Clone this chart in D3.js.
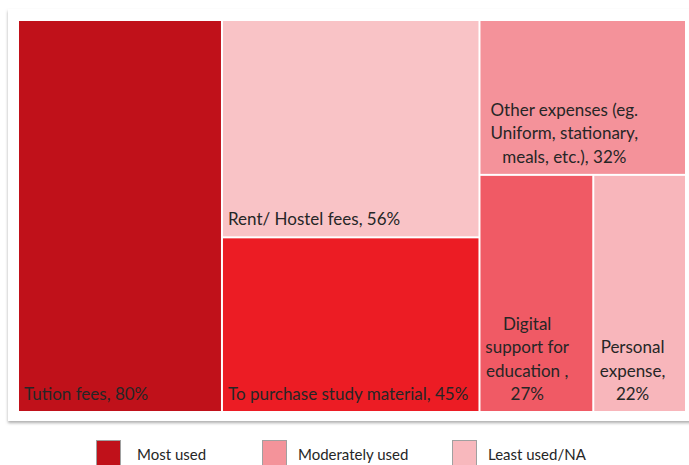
<!DOCTYPE html>
<html>
<head>
<meta charset="utf-8">
<script src="https://cdn.jsdelivr.net/npm/d3@7"></script>
<style>
  html, body { margin: 0; padding: 0; background: #fff; }
  svg { display: block; font-family: Lato, "Open Sans", sans-serif; }
</style>
</head>
<body>
<svg id="chart" width="689" height="465"></svg>
<script>
// chart data
var categories = [
    "Tution fees",
    "Rent/ Hostel fees",
    "To purchase study material",
    "Other expenses (eg.\nUniform, stationary,\nmeals, etc.)",
    "Digital\nsupport for\neducation ",
    "Personal\nexpense"
];
var values = [80, 56, 45, 32, 27, 22];
// value printed on its own line under the name
var valueOnOwnLine = [false, false, false, false, true, true];
// how the cells are nested (columns, then rows inside)
var blocks = [[0], [1, 2], [3, [4, 5]]];
var cellColors = ["#c0111a", "#f9c3c6", "#ec1c24", "#f4929a", "#f05a65", "#f8b6bb"];

var legendLabels = ["Most used", "Moderately used", "Least used/NA"];
var legendColors = ["#c0111a", "#f4939a", "#f8b8bd"];

var svg = d3.select('#chart');

var defs = svg.append('defs');
defs.append('filter').attr('id', 'shadow')
    .attr('x', '-5%').attr('y', '-5%').attr('width', '110%').attr('height', '110%')
    .append('feDropShadow')
    .attr('dx', 0).attr('dy', 2).attr('stdDeviation', 1.5)
    .attr('flood-color', '#777').attr('flood-opacity', 0.6);

// card
svg.append('rect')
    .attr('x', 8).attr('y', 9)
    .attr('width', 700).attr('height', 412)
    .attr('fill', '#fff')
    .attr('filter', 'url(#shadow)');

var build = function(item)
{
    return Array.isArray(item) ? { children : item.map(build) } : { idx : item };
};

var root = d3.hierarchy({ children : blocks.map(build) })
    .sum(function(d) { return d.idx !== undefined ? values[d.idx] : 0; });

d3.treemap()
    .tile(d3.treemapSliceDice)
    .size([666, 390])
    .paddingInner(2)(root);

var g = svg.append('g').attr('transform', 'translate(19,21)');

var cell = g.selectAll('g.cell')
    .data(root.leaves())
    .enter().append('g')
    .attr('class', 'cell');

cell.append('rect')
    .attr('x', function(d) { return d.x0; })
    .attr('y', function(d) { return d.y0; })
    .attr('width', function(d) { return d.x1 - d.x0; })
    .attr('height', function(d) { return d.y1 - d.y0; })
    .attr('fill', function(d) { return cellColors[d.data.idx]; });

var lineH = 23.4;

cell.each(function(d)
{
    var i = d.data.idx,
        label = categories[i] + ',' + (valueOnOwnLine[i] ? '\n' : ' ') + values[i] + '%',
        lines = label.split('\n'),
        multi = lines.length > 1,
        w = d.x1 - d.x0,
        tx = multi ? d.x0 + w * 0.4 + 2 : d.x0 + 5,
        text = d3.select(this).append('text')
            .attr('text-anchor', multi ? 'middle' : 'start')
            .attr('fill', '#262626')
            .attr('font-size', 17);

    lines.forEach(function(l, k)
    {
        text.append('tspan')
            .attr('x', tx)
            .attr('y', d.y1 - 11 - (lines.length - 1 - k) * lineH)
            .text(l);
    });
});

// legend
var legendX = [96, 262, 452];

var item = svg.selectAll('g.legend')
    .data(legendLabels)
    .enter().append('g')
    .attr('class', 'legend')
    .attr('transform', function(d, i) { return 'translate(' + legendX[i] + ',440)'; });

item.append('rect')
    .attr('x', 0.5).attr('y', 0.5)
    .attr('width', 24).attr('height', 25)
    .attr('fill', function(d, i) { return legendColors[i]; })
    .attr('stroke', '#a0a0a0')
    .attr('stroke-width', 1);

item.append('text')
    .attr('x', function(d, i) { return i === 0 ? 41 : 36; })
    .attr('y', 20)
    .attr('font-size', 15)
    .attr('fill', '#262626')
    .text(function(d) { return d; });
</script>
</body>
</html>
